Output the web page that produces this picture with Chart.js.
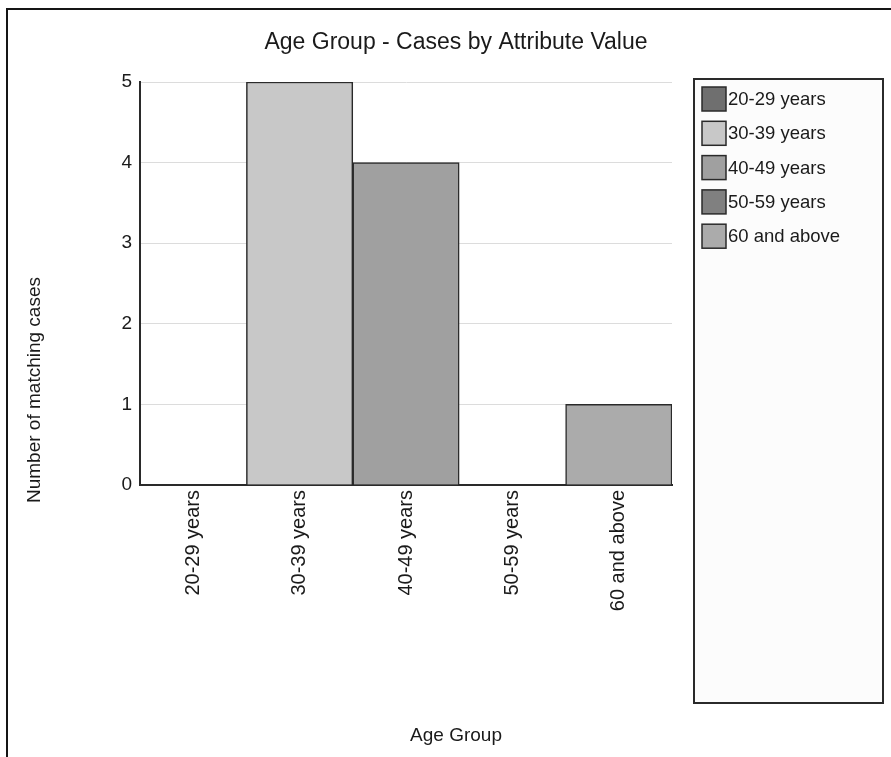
<!DOCTYPE html>
<html>
<head>
<meta charset="utf-8">
<script src="https://cdn.jsdelivr.net/npm/chart.js@4/dist/chart.umd.min.js"></script>
<style>
  html, body { margin: 0; padding: 0; background: #ffffff; overflow: hidden; }
  body { width: 891px; height: 757px; position: relative; }
  #frame { position: absolute; left: 6px; top: 8px; width: 900px; height: 800px;
           border-left: 2px solid #151515; border-top: 2px solid #151515; }
  #c { position: absolute; left: 21px; top: 0; }
</style>
</head>
<body>
<div id="frame"></div>
<canvas id="c" width="870" height="757"></canvas>
<script>
const CATEGORIES = ['20-29 years', '30-39 years', '40-49 years', '50-59 years', '60 and above'];
const CASES = [0, 5, 4, 0, 1];
const Y_TICKS = [0, 1, 2, 3, 4, 5];
const TITLE = 'Age Group - Cases by Attribute Value';
const X_TITLE = 'Age Group';
const Y_TITLE = 'Number of matching cases';
const BAR_COLORS = ['#6f6f6f', '#c8c8c8', '#a0a0a0', '#808080', '#ababab'];

const FONT = '"Liberation Sans", Arial, Helvetica, sans-serif';
Chart.defaults.font.family = FONT;
Chart.defaults.color = '#1a1a1a';

const extras = {
  id: 'extras',
  afterDraw(chart) {
    const ctx = chart.ctx;
    const ca = chart.chartArea;
    // y axis title (centred on whole frame height)
    ctx.save();
    ctx.translate(14, 390);
    ctx.rotate(-Math.PI / 2);
    ctx.font = '19px ' + FONT;
    ctx.fillStyle = '#1a1a1a';
    ctx.textAlign = 'center';
    ctx.textBaseline = 'middle';
    ctx.fillText(Y_TITLE, 0, 0);
    ctx.restore();

    // legend box
    const bx = ca.right + 22, by = ca.top - 3, bw = 189, bh = 624;
    ctx.save();
    ctx.fillStyle = '#fcfcfc';
    ctx.fillRect(bx, by, bw, bh);
    ctx.lineWidth = 2;
    ctx.strokeStyle = '#2a2a2a';
    ctx.strokeRect(bx, by, bw, bh);
    ctx.font = '18.5px ' + FONT;
    ctx.textAlign = 'left';
    ctx.textBaseline = 'middle';
    CATEGORIES.forEach((label, i) => {
      const sy = by + 8 + i * 34.3;
      ctx.fillStyle = BAR_COLORS[i];
      ctx.fillRect(bx + 8, sy, 24, 24);
      ctx.lineWidth = 1.5;
      ctx.strokeStyle = '#2a2a2a';
      ctx.strokeRect(bx + 8, sy, 24, 24);
      ctx.fillStyle = '#1a1a1a';
      ctx.fillText(label, bx + 34, sy + 13);
    });
    ctx.restore();
  }
};

new Chart(document.getElementById('c'), {
  type: 'bar',
  data: {
    labels: CATEGORIES,
    datasets: [{
      label: 'Cases',
      data: CASES,
      backgroundColor: BAR_COLORS,
      borderColor: '#2a2a2a',
      borderWidth: 1.5,
      barPercentage: 1,
      categoryPercentage: 1
    }]
  },
  options: {
    responsive: false,
    animation: false,
    devicePixelRatio: 1,
    layout: { padding: 0 },
    plugins: {
      legend: { display: false },
      tooltip: { enabled: false },
      title: {
        display: true,
        text: TITLE,
        font: { size: 23, weight: 'normal' },
        color: '#1a1a1a',
        padding: { top: 29, bottom: 25.4 }
      },
      subtitle: {
        display: true,
        position: 'bottom',
        text: X_TITLE,
        font: { size: 19, weight: 'normal' },
        color: '#1a1a1a',
        padding: { top: 4, bottom: 10 }
      }
    },
    scales: {
      x: {
        type: 'category',
        grid: { display: false, drawTicks: false },
        border: { display: true, color: '#2a2a2a', width: 2 },
        ticks: {
          minRotation: 90, maxRotation: 90, autoSkip: false,
          padding: 5,
          font: { size: 20 },
          color: '#1a1a1a'
        },
        afterFit(s) { s.height = 235.2; }
      },
      y: {
        position: 'left',
        min: 0, max: 5,
        afterBuildTicks(s) { s.ticks = Y_TICKS.map(v => ({ value: v })); },
        grid: {
          drawTicks: false,
          color: ctx => (ctx.tick && ctx.tick.value === 0) ? 'rgba(0,0,0,0)' : '#dcdcdc',
          lineWidth: 1
        },
        border: { display: true, color: '#2a2a2a', width: 2 },
        ticks: { padding: 8, font: { size: 19 }, color: '#1a1a1a' },
        afterFit(s) { s.width = 119; }
      },
      yRight: {
        type: 'linear',
        position: 'right',
        display: true,
        grid: { display: false },
        border: { display: false },
        ticks: { display: false },
        afterFit(s) { s.width = 219; }
      }
    }
  },
  plugins: [extras]
});
</script>
</body>
</html>
